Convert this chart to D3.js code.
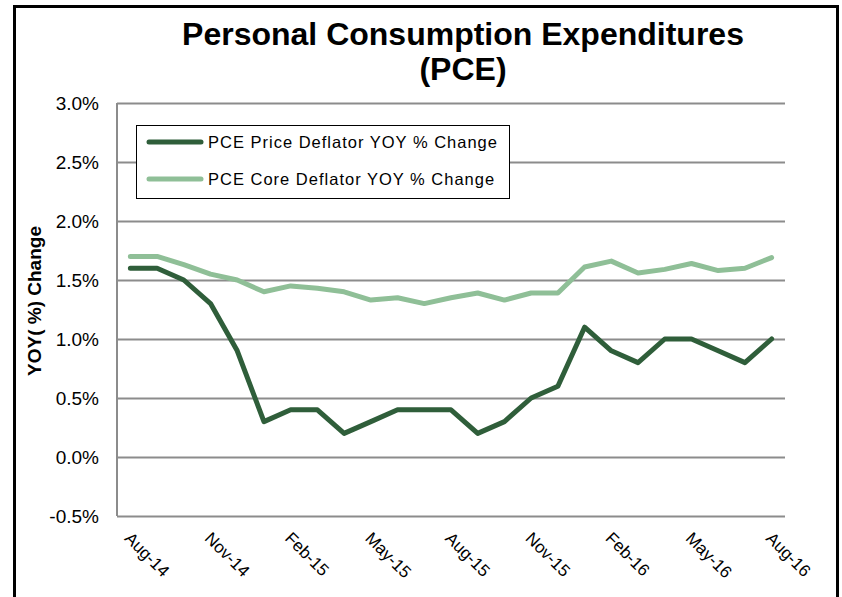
<!DOCTYPE html>
<html><head><meta charset="utf-8">
<script src="https://cdn.jsdelivr.net/npm/d3@7"></script>
<style>body{margin:0;background:#fff;}svg{display:block;font-family:Arial,"Liberation Sans",sans-serif;}</style>
</head><body>
<svg id="c" width="842" height="597"></svg>
<script>
const months = ["Aug-14","Sep-14","Oct-14","Nov-14","Dec-14","Jan-15","Feb-15","Mar-15","Apr-15","May-15","Jun-15","Jul-15","Aug-15","Sep-15","Oct-15","Nov-15","Dec-15","Jan-16","Feb-16","Mar-16","Apr-16","May-16","Jun-16","Jul-16","Aug-16"];
const tickLabels = ["Aug-14","Nov-14","Feb-15","May-15","Aug-15","Nov-15","Feb-16","May-16","Aug-16"];
const priceDeflator = [1.6,1.6,1.5,1.3,0.9,0.3,0.4,0.4,0.2,0.3,0.4,0.4,0.4,0.2,0.3,0.5,0.6,1.1,0.9,0.8,1.0,1.0,0.9,0.8,1.0];
const coreDeflator = [1.7,1.7,1.63,1.55,1.5,1.4,1.45,1.43,1.4,1.33,1.35,1.3,1.35,1.39,1.33,1.39,1.39,1.61,1.66,1.56,1.59,1.64,1.58,1.6,1.69];
const yTicks = [-0.5,0,0.5,1.0,1.5,2.0,2.5,3.0];
const seriesNames = ["PCE Price Deflator YOY % Change","PCE Core Deflator YOY % Change"];
const colors = ["#2f5e3a","#8fbf97"];

const svg = d3.select("#c");
const L=117, R=785, T=103, B=516;
const x = d3.scalePoint().domain(months).range([L,R]).padding(0.5);
const y = d3.scaleLinear().domain([-0.5,3.0]).range([B,T]);

// outer frame
svg.append("rect").attr("x",14.5).attr("y",6.5).attr("width",823).attr("height",600)
  .attr("fill","none").attr("stroke","#000").attr("stroke-width",3);

// title
svg.append("text").attr("x",463).attr("y",45).attr("text-anchor","middle")
  .attr("font-size",32).attr("font-weight","bold").text("Personal Consumption Expenditures");
svg.append("text").attr("x",463).attr("y",80).attr("text-anchor","middle")
  .attr("font-size",32).attr("font-weight","bold").text("(PCE)");

// gridlines
const fmt = d => (d<0?"-":"") + d3.format(".1f")(Math.abs(d)) + "%";
const yAxis = d3.axisLeft(y).tickValues(yTicks).tickSize(-(R-L)).tickFormat(fmt).tickPadding(18);
const gy = svg.append("g").attr("transform",`translate(${L},0)`).call(yAxis);
gy.select(".domain").remove();
gy.selectAll(".tick line").attr("stroke","#8c8c8c").attr("stroke-width",2);
gy.selectAll(".tick text").attr("font-size",19).attr("fill","#000").attr("font-family","Arial, 'Liberation Sans', sans-serif");
// left axis line
svg.append("line").attr("x1",L).attr("x2",L).attr("y1",T).attr("y2",B).attr("stroke","#8c8c8c").attr("stroke-width",2);

// y title
svg.append("text").attr("transform",`translate(41,301) rotate(-90)`).attr("text-anchor","middle")
  .attr("font-size",19).attr("font-weight","bold").text("YOY( %) Change");

// x labels
const xAxis = d3.axisBottom(x).tickValues(tickLabels).tickSize(0);
const gx = svg.append("g").attr("transform",`translate(0,${B})`).call(xAxis);
gx.select(".domain").remove();
gx.selectAll(".tick text").attr("font-size",17).attr("fill","#000").attr("font-family","Arial, 'Liberation Sans', sans-serif")
  .attr("text-anchor","start").attr("transform","translate(-3,19) rotate(45)").attr("dy","0.35em").attr("y",0);

// lines
const line = d3.line().x((d,i)=>x(months[i])).y(d=>y(d));
[coreDeflator, priceDeflator].forEach((s,k)=>{
  svg.append("path").datum(s).attr("d",line).attr("fill","none")
    .attr("stroke", k===0?colors[1]:colors[0]).attr("stroke-width",5).attr("stroke-linejoin","round").attr("stroke-linecap","round");
});

// legend
const lg = svg.append("g");
lg.append("rect").attr("x",136.5).attr("y",125.5).attr("width",373).attr("height",73).attr("fill","#fff").attr("stroke","#000").attr("stroke-width",1);
seriesNames.forEach((n,i)=>{
  const yy = 142 + i*37;
  lg.append("line").attr("x1",149).attr("x2",201).attr("y1",yy).attr("y2",yy).attr("stroke",colors[i]).attr("stroke-width",5).attr("stroke-linecap","round");
  lg.append("text").attr("x",208).attr("y",yy).attr("dy","0.35em").attr("font-size",16.5).attr("letter-spacing","1px").text(n);
});
</script>
</body></html>
